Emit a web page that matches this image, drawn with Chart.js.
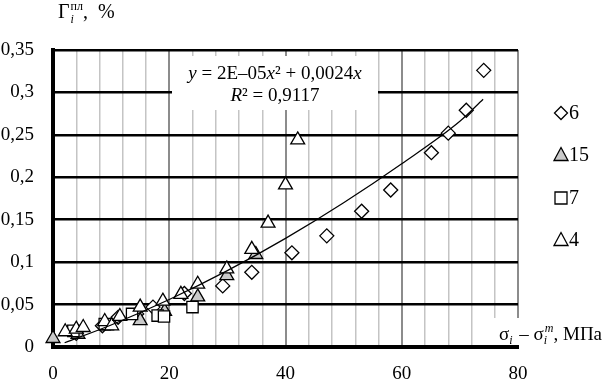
<!DOCTYPE html>
<html>
<head>
<meta charset="utf-8">
<script src="https://cdn.jsdelivr.net/npm/chart.js@4/dist/chart.umd.min.js"></script>
<style>
  html, body { margin: 0; padding: 0; background: #fff; }
  #wrap { width: 610px; height: 381px; position: relative; }
</style>
</head>
<body>
<div id="wrap"><canvas id="c" width="610" height="381"></canvas></div>
<script>
// ---- data ----
const s6x  = [4, 8.5, 11.2, 14.4, 17.2, 22.6, 29.2, 34.2, 41.1, 47.1, 53.1, 58.1, 65.1, 68.0, 71.1, 74.1];
const s6y  = [0.016, 0.025, 0.035, 0.039, 0.047, 0.063, 0.072, 0.088, 0.111, 0.131, 0.160, 0.185, 0.229, 0.252, 0.279, 0.326];

const s15x = [0, 4.3, 9.2, 15.0, 19.2, 24.9, 29.9, 34.9];
const s15y = [0.010, 0.015, 0.025, 0.031, 0.042, 0.059, 0.084, 0.109];

const s7x  = [3.5, 8.9, 13.6, 18.0, 19.1, 24.0];
const s7y  = [0.019, 0.027, 0.039, 0.037, 0.036, 0.047];

const s4x  = [2.1, 4.0, 5.2, 8.9, 10.1, 11.5, 15.0, 18.9, 22.0, 24.9, 29.9, 34.2, 37.0, 40.0, 42.1];
const s4y  = [0.018, 0.021, 0.023, 0.030, 0.025, 0.036, 0.047, 0.054, 0.062, 0.074, 0.092, 0.115, 0.146, 0.191, 0.244];

// trend line
const trendX = [2, 10, 20, 30, 40, 50, 60, 70, 74];
const trendY = [0.005, 0.026, 0.056, 0.090, 0.128, 0.170, 0.216, 0.266, 0.292];

const seriesNames = ['6', '15', '7', '4'];
const xTickLabels = ['0', '20', '40', '60', '80'];
const yTickLabels = ['0', '0,05', '0,1', '0,15', '0,2', '0,25', '0,3', '0,35'];

const eqLine1 = 'y = 2E–05x² + 0,0024x';
const eqLine2 = 'R² = 0,9117';

function pts(xs, ys) { return xs.map((x, i) => ({ x: x, y: ys[i] })); }

const SERIF = '"Liberation Serif", "Times New Roman", serif';
const GRAY_FILL = '#c9c9c9';

function drawRuns(ctx, runs, x, baseY) {
  let cx = x;
  for (const r of runs) {
    ctx.font = (r.italic ? 'italic ' : '') + r.size + 'px ' + SERIF;
    const w = ctx.measureText(r.t).width;
    ctx.fillText(r.t, cx, baseY + (r.dy || 0));
    cx += w;
  }
  return cx;
}
function runsWidth(ctx, runs) {
  let w = 0;
  for (const r of runs) {
    ctx.font = (r.italic ? 'italic ' : '') + r.size + 'px ' + SERIF;
    w += ctx.measureText(r.t).width;
  }
  return w;
}

const extras = {
  id: 'extras',
  beforeDatasetsDraw(chart) {
    const ctx = chart.ctx;
    ctx.save();
    // equation box
    ctx.fillStyle = '#fff';
    ctx.fillRect(172, 56, 206, 54);
    ctx.fillStyle = '#000';
    ctx.textBaseline = 'alphabetic';
    const r1 = [
      { t: 'y', italic: true, size: 19 },
      { t: ' = 2E–05', size: 19 },
      { t: 'x', italic: true, size: 19 },
      { t: '² + 0,0024', size: 19 },
      { t: 'x', italic: true, size: 19 }
    ];
    const w1 = runsWidth(ctx, r1);
    drawRuns(ctx, r1, 275 - w1 / 2, 79);
    const r2 = [
      { t: 'R', italic: true, size: 19 },
      { t: '² = 0,9117', size: 19 }
    ];
    const w2 = runsWidth(ctx, r2);
    drawRuns(ctx, r2, 275 - w2 / 2, 101);
    ctx.restore();
  },
  afterDraw(chart) {
    const ctx = chart.ctx;
    ctx.save();
    ctx.fillStyle = '#000';
    ctx.textBaseline = 'alphabetic';
    // y axis title: Γ_i^пл, %
    ctx.font = '20px ' + SERIF;
    ctx.fillText('Γ', 58, 18);
    let gx = 58 + ctx.measureText('Γ').width + 1;
    ctx.font = 'italic 12px ' + SERIF;
    ctx.fillText('i', gx, 23);
    ctx.font = '12px ' + SERIF;
    ctx.fillText('пл', gx, 10);
    gx += ctx.measureText('пл').width;
    ctx.font = '20px ' + SERIF;
    ctx.fillText(',  %', gx, 18);

    // x axis title with white background
    ctx.fillStyle = '#fff';
    ctx.fillRect(488, 318, 122, 27);
    ctx.fillStyle = '#000';
    let tx = 499;
    const by = 340;
    ctx.font = '19px ' + SERIF;
    ctx.fillText('σ', tx, by); tx += ctx.measureText('σ').width;
    ctx.font = 'italic 12px ' + SERIF;
    ctx.fillText('i', tx, by + 4); tx += ctx.measureText('i').width + 2;
    ctx.font = '19px ' + SERIF;
    ctx.fillText(' – σ', tx, by); tx += ctx.measureText(' – σ').width;
    ctx.font = 'italic 12px ' + SERIF;
    ctx.fillText('i', tx, by + 4);
    ctx.fillText('т', tx + 1, by - 8);
    tx += ctx.measureText('т').width + 1;
    ctx.font = '19px ' + SERIF;
    ctx.fillText(', МПа', tx, by);

    // legend
    const lx = 561;
    const ly = [113, 155, 198, 240];
    ctx.lineWidth = 1.3;
    ctx.strokeStyle = '#000';
    // diamond
    ctx.fillStyle = '#fff';
    ctx.beginPath();
    ctx.moveTo(lx, ly[0] - 6.5); ctx.lineTo(lx + 6.5, ly[0]); ctx.lineTo(lx, ly[0] + 6.5); ctx.lineTo(lx - 6.5, ly[0]); ctx.closePath();
    ctx.fill(); ctx.stroke();
    // gray triangle
    ctx.fillStyle = GRAY_FILL;
    ctx.beginPath();
    ctx.moveTo(lx, ly[1] - 7.5); ctx.lineTo(lx + 7, ly[1] + 5.5); ctx.lineTo(lx - 7, ly[1] + 5.5); ctx.closePath();
    ctx.fill(); ctx.stroke();
    // square
    ctx.fillStyle = '#fff';
    ctx.beginPath(); ctx.rect(lx - 6, ly[2] - 6, 12, 12); ctx.fill(); ctx.stroke();
    // open triangle
    ctx.beginPath();
    ctx.moveTo(lx, ly[3] - 7.5); ctx.lineTo(lx + 7, ly[3] + 5.5); ctx.lineTo(lx - 7, ly[3] + 5.5); ctx.closePath();
    ctx.fill(); ctx.stroke();
    ctx.fillStyle = '#000';
    ctx.font = '20px ' + SERIF;
    ctx.textBaseline = 'middle';
    seriesNames.forEach((n, i) => ctx.fillText(n, lx + 8, ly[i] + 1));
    ctx.restore();
  }
};

const common = { showLine: false, clip: false, borderColor: '#000', borderWidth: 1.3, pointBorderWidth: 1.3, pointHoverRadius: 7 };

new Chart(document.getElementById('c'), {
  type: 'scatter',
  data: {
    datasets: [
      { label: 'trend', data: pts(trendX, trendY), type: 'line', showLine: true, borderColor: '#000', borderWidth: 1.2,
        pointRadius: 0, fill: false, cubicInterpolationMode: 'monotone', order: 0 },
      Object.assign({ label: seriesNames[3], data: pts(s4x, s4y), pointStyle: 'triangle', pointRadius: 8, backgroundColor: '#fff', order: 1 }, common),
      Object.assign({ label: seriesNames[2], data: pts(s7x, s7y), pointStyle: 'rect', pointRadius: 8, backgroundColor: '#fff', order: 2 }, common),
      Object.assign({ label: seriesNames[1], data: pts(s15x, s15y), pointStyle: 'triangle', pointRadius: 8, backgroundColor: GRAY_FILL, order: 3 }, common),
      Object.assign({ label: seriesNames[0], data: pts(s6x, s6y), pointStyle: 'rectRot', pointRadius: 7, backgroundColor: '#fff', order: 4 }, common)
    ]
  },
  options: {
    responsive: false,
    animation: false,
    layout: { padding: { left: 0, right: 92, top: 50, bottom: 0 } },
    plugins: { legend: { display: false }, tooltip: { enabled: false } },
    scales: {
      x: {
        type: 'linear', min: 0, max: 80,
        afterFit(s) { s.height = 34; },
        ticks: {
          stepSize: 4, autoSkip: false, maxRotation: 0, padding: 16,
          color: '#000', font: { family: SERIF, size: 19 },
          callback: (v) => (v % 20 === 0 ? xTickLabels[v / 20] : '')
        },
        grid: {
          drawTicks: false,
          color: (c) => (c.tick && c.tick.value % 20 === 0 ? '#8c8c8c' : '#c4c4c4'),
          lineWidth: (c) => (c.tick && c.tick.value % 20 === 0 ? 2 : 1.5)
        },
        border: { color: '#000', width: 4 }
      },
      y: {
        min: 0, max: 0.35,
        afterFit(s) { s.width = 53; },
        ticks: {
          stepSize: 0.05, padding: 19,
          color: '#000', font: { family: SERIF, size: 19 },
          callback: (v) => yTickLabels[Math.round(v / 0.05)]
        },
        grid: { drawTicks: false, color: '#000', lineWidth: 2.5 },
        border: { color: '#000', width: 4 }
      }
    }
  },
  plugins: [extras]
});
</script>
</body>
</html>
